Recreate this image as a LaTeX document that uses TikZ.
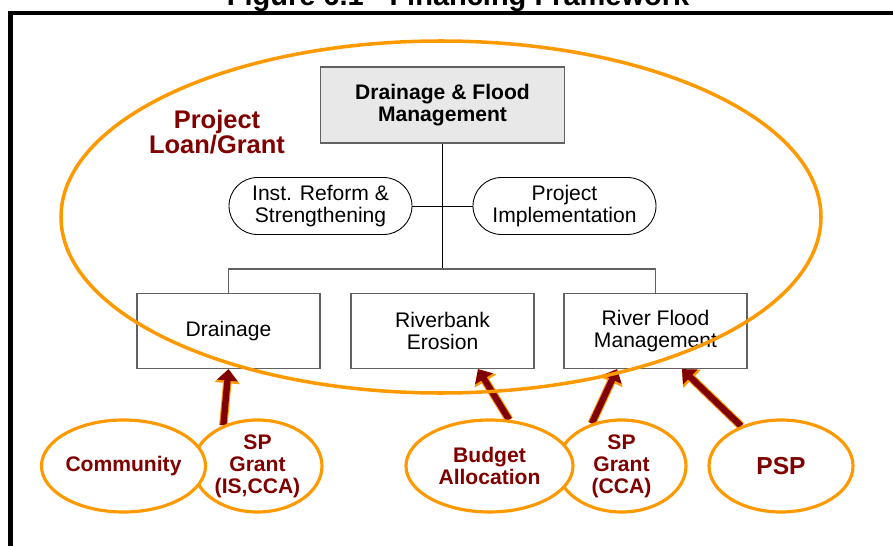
\documentclass[tikz,border=0pt]{standalone}
\usepackage{fontspec}
\setmainfont{Liberation Sans}
\usetikzlibrary{arrows.meta,shapes.geometric,backgrounds}
\definecolor{orange1}{rgb}{1,0.6,0}
\definecolor{red1}{rgb}{0.5,0,0}
\definecolor{gray1}{rgb}{0.91,0.91,0.91}
\definecolor{gray2}{rgb}{0.38,0.38,0.38}

\tikzset{
  unit/.style={draw=gray2, line width=0.7pt, minimum width=3.66cm, minimum height=1.5cm,
    align=center, font=\fontsize{12}{12.5}\selectfont},
  task/.style={draw=black, line width=0.5pt, rounded corners=0.57cm, minimum width=3.66cm,
    minimum height=1.14cm, align=center, font=\fontsize{12}{12.5}\selectfont},
  fund/.style={ellipse, draw=orange1, line width=1.8pt, fill=white, minimum height=1.84cm,
    inner sep=0pt, align=center, text=red1, font=\bfseries\fontsize{12}{12.5}\selectfont},
  flow/.style={draw=red1, line width=3.6pt, -{Triangle[width=11.5pt,length=6.5pt]},
    preaction={draw=orange1, line width=4.8pt, -{Triangle[width=14pt,length=8pt]}}}
}

\begin{document}
\begin{tikzpicture}
    \useasboundingbox (0,0) rectangle (17.86,10.9);
    % frame and heading (cut by the page edge)
    \node[font=\bfseries\fontsize{16.5}{18}\selectfont, anchor=base] (title) at (9.16,10.78) {Figure 6.1 - Financing Framework};
    \draw[line width=2.3pt] (0.21,-0.2) -- (0.21,10.64) -- (18.2,10.64);

    % organisation chart
    \node[unit, fill=gray1, minimum width=4.88cm, minimum height=1.52cm, font=\bfseries\fontsize{12}{12.5}\selectfont] (dfm) at (8.85,8.8) {Drainage \& Flood\\Management};
    \node[task] (inst) at (6.41,6.78) {Inst. Reform \&\\Strengthening};
    \node[task] (impl) at (11.29,6.78) {Project\\Implementation};
    \node[unit] (drain) at (4.57,4.28) {Drainage};
    \node[unit] (erosion) at (8.85,4.28) {Riverbank\\Erosion};
    \node[unit] (flood) at (13.11,4.28) {River Flood\\Management};
    \coordinate (bus) at (8.85,5.52);

    \draw (dfm.south) -- (bus);
    \draw (inst.east) -- (impl.west);
    \draw[gray2, line width=0.7pt] (drain.north) -- (drain.north |- bus) -- (flood.north |- bus) -- (flood.north);

    % project loan / grant
    \draw[orange1, line width=2pt] (8.82,6.56) ellipse (7.6 and 3.52);
    \node[text=red1, align=center, font=\bfseries\fontsize{14.5}{13.8}\selectfont] (loan) at (4.34,8.26) {Project\\Loan/Grant};

    % sources of funds
    \node[fund, minimum width=2.58cm] (spis) at (5.15,1.58) {SP\\Grant\\(IS,CCA)};
    \node[fund, minimum width=3.26cm] (comm) at (2.47,1.58) {Community};
    \node[fund, minimum width=2.58cm] (spcca) at (12.43,1.58) {SP\\Grant\\(CCA)};
    \node[fund, minimum width=3.34cm] (budget) at (9.79,1.58) {Budget\\Allocation};
    \node[fund, minimum width=2.88cm, font=\bfseries\fontsize{14}{15}\selectfont] (psp) at (15.62,1.58) {PSP};

    \begin{scope}[on background layer]
      \draw[flow] (spis.130) -- (drain.south);
      \draw[flow] (budget.67) -- ([xshift=0.71cm]erosion.south);
      \draw[flow] (spcca.125) -- ([xshift=-0.77cm]flood.south);
      \draw[flow] (psp.135) -- ([xshift=0.53cm]flood.south);
    \end{scope}

  \end{tikzpicture}
\end{document}
